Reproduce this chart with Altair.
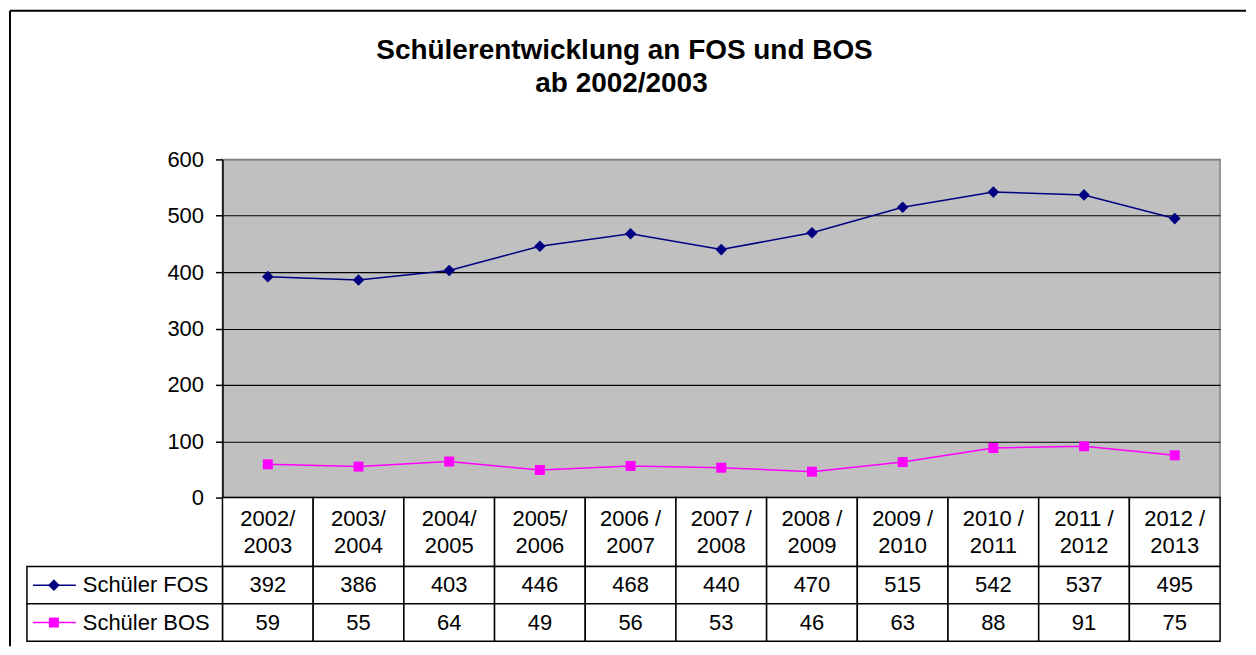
import altair as alt
import pandas as pd

FONT = "Liberation Sans"

title_lines = ["Schülerentwicklung an FOS und BOS", "ab 2002/2003"]
categories = ["2002/\n2003", "2003/\n2004", "2004/\n2005", "2005/\n2006",
              "2006 /\n2007", "2007 /\n2008", "2008 /\n2009", "2009 /\n2010",
              "2010 /\n2011", "2011 /\n2012", "2012 /\n2013"]
series_names = ["Schüler FOS", "Schüler BOS"]
fos = [392, 386, 403, 446, 468, 440, 470, 515, 542, 537, 495]
bos = [59, 55, 64, 49, 56, 53, 46, 63, 88, 91, 75]
y_ticks = [0, 100, 200, 300, 400, 500, 600]
colors = ["#000080", "#FF00FF"]
shapes = ["diamond", "square"]
marker_sizes = [135, 100]

rows = []
for name, vals in zip(series_names, [fos, bos]):
    for c, v in zip(categories, vals):
        rows.append({"cat": c, "series": name, "value": v})
df = pd.DataFrame(rows)
cat_df = pd.DataFrame({"cat": categories})
legend_df = pd.DataFrame({"series": series_names})

color_enc = alt.Color("series:N", scale=alt.Scale(domain=series_names, range=colors), legend=None)
shape_enc = alt.Shape("series:N", scale=alt.Scale(domain=series_names, range=shapes), legend=None)
size_enc = alt.Size("series:N", scale=alt.Scale(domain=series_names, range=marker_sizes), legend=None)

band_x = alt.Scale(domain=categories, type="band", paddingInner=0, paddingOuter=0)
point_x = alt.Scale(domain=categories, type="point", padding=0.5)

# ---------- top: line chart ----------
base = alt.Chart(df).encode(
    x=alt.X("cat:N", scale=point_x, axis=None),
    y=alt.Y("value:Q", scale=alt.Scale(domain=[0, 600], nice=False),
            axis=alt.Axis(values=y_ticks, title=None, grid=True,
                          gridColor={"condition": {"test": "datum.value >= 600", "value": "#808080"}, "value": "#000000"},
                          gridWidth=1.2, domainColor="#000000", domainWidth=1.5,
                          tickColor="#000000", tickSize=7, tickWidth=1.5,
                          labelFontSize=22, labelFont=FONT, labelColor="#000000",
                          labelPadding=12)),
    color=color_enc,
)
lines = base.mark_line(strokeWidth=1.5)
points = base.mark_point(filled=True, opacity=1).encode(shape=shape_enc, size=size_enc)

one = alt.Data(values=[{"a": 1}])
t1 = alt.Chart(alt.Data(values=[{"t": title_lines[0]}])).mark_text(
    fontSize=28, fontWeight="bold", font=FONT, align="center", baseline="alphabetic", color="#000000"
).encode(text="t:N", x=alt.value(403), y=alt.value(-101))
t2 = alt.Chart(alt.Data(values=[{"t": title_lines[1]}])).mark_text(
    fontSize=28, fontWeight="bold", font=FONT, align="center", baseline="alphabetic", color="#000000"
).encode(text="t:N", x=alt.value(400), y=alt.value(-68))
frame_top = alt.Chart(one).mark_rule(color="#000000", strokeWidth=2).encode(
    x=alt.value(-213), x2=alt.value(1026), y=alt.value(-149))
frame_left = alt.Chart(one).mark_rule(color="#000000", strokeWidth=2).encode(
    x=alt.value(-213), y=alt.value(-149), y2=alt.value(488))

top = alt.layer(frame_top, frame_left, t1, t2, lines, points).properties(
    width=1000, height=339,
    view=alt.ViewBackground(fill="#C0C0C0", stroke="#808080", strokeWidth=1.5))

# ---------- header row ----------
hdr = alt.Chart(cat_df).encode(x=alt.X("cat:N", scale=band_x, axis=None))
hdr_rect = hdr.mark_rect(fill="white", stroke="#000000", strokeWidth=1.5)
hdr_text = hdr.mark_text(fontSize=22, font=FONT, lineBreak="\n", lineHeight=27,
                         baseline="middle", dy=-13, color="#000000").encode(text="cat:N")
header = alt.layer(hdr_rect, hdr_text).properties(width=1000, height=69)

# ---------- data table ----------
band_y = alt.Scale(domain=series_names, type="band", paddingInner=0, paddingOuter=0)
tb = alt.Chart(df).encode(
    x=alt.X("cat:N", scale=band_x, axis=None),
    y=alt.Y("series:N", scale=band_y, axis=None),
)
cells = tb.mark_rect(fill="white", stroke="#000000", strokeWidth=1.5)
vals = tb.mark_text(fontSize=22, font=FONT, color="#000000").encode(
    y=alt.Y("series:N", scale=band_y, axis=None, bandPosition=0.5), text="value:Q")

lb = alt.Chart(legend_df)
leg_cells = lb.mark_rect(fill="white", stroke="#000000", strokeWidth=1.5).encode(
    y=alt.Y("series:N", scale=band_y, axis=None), x=alt.value(-196), x2=alt.value(0))
leg_lines = lb.mark_rule(strokeWidth=1.5).encode(
    y=alt.Y("series:N", scale=band_y, axis=None, bandPosition=0.5),
    x=alt.value(-190), x2=alt.value(-147), color=color_enc)
leg_pts = lb.mark_point(filled=True, opacity=1).encode(
    y=alt.Y("series:N", scale=band_y, axis=None, bandPosition=0.5),
    x=alt.value(-169), color=color_enc, shape=shape_enc, size=size_enc)
leg_text = lb.mark_text(fontSize=22, font=FONT, align="left", color="#000000").encode(
    y=alt.Y("series:N", scale=band_y, axis=None, bandPosition=0.5),
    x=alt.value(-140), text="series:N")

table = alt.layer(cells, vals, leg_cells, leg_lines, leg_pts, leg_text).properties(width=1000, height=75)

chart = alt.vconcat(top, header, table, spacing=0, bounds="flush").properties(
    padding=0, background="white"
).configure_view(strokeWidth=0).configure(font=FONT)

chart.save("out.html", embed_options={"renderer": "svg", "actions": False})
